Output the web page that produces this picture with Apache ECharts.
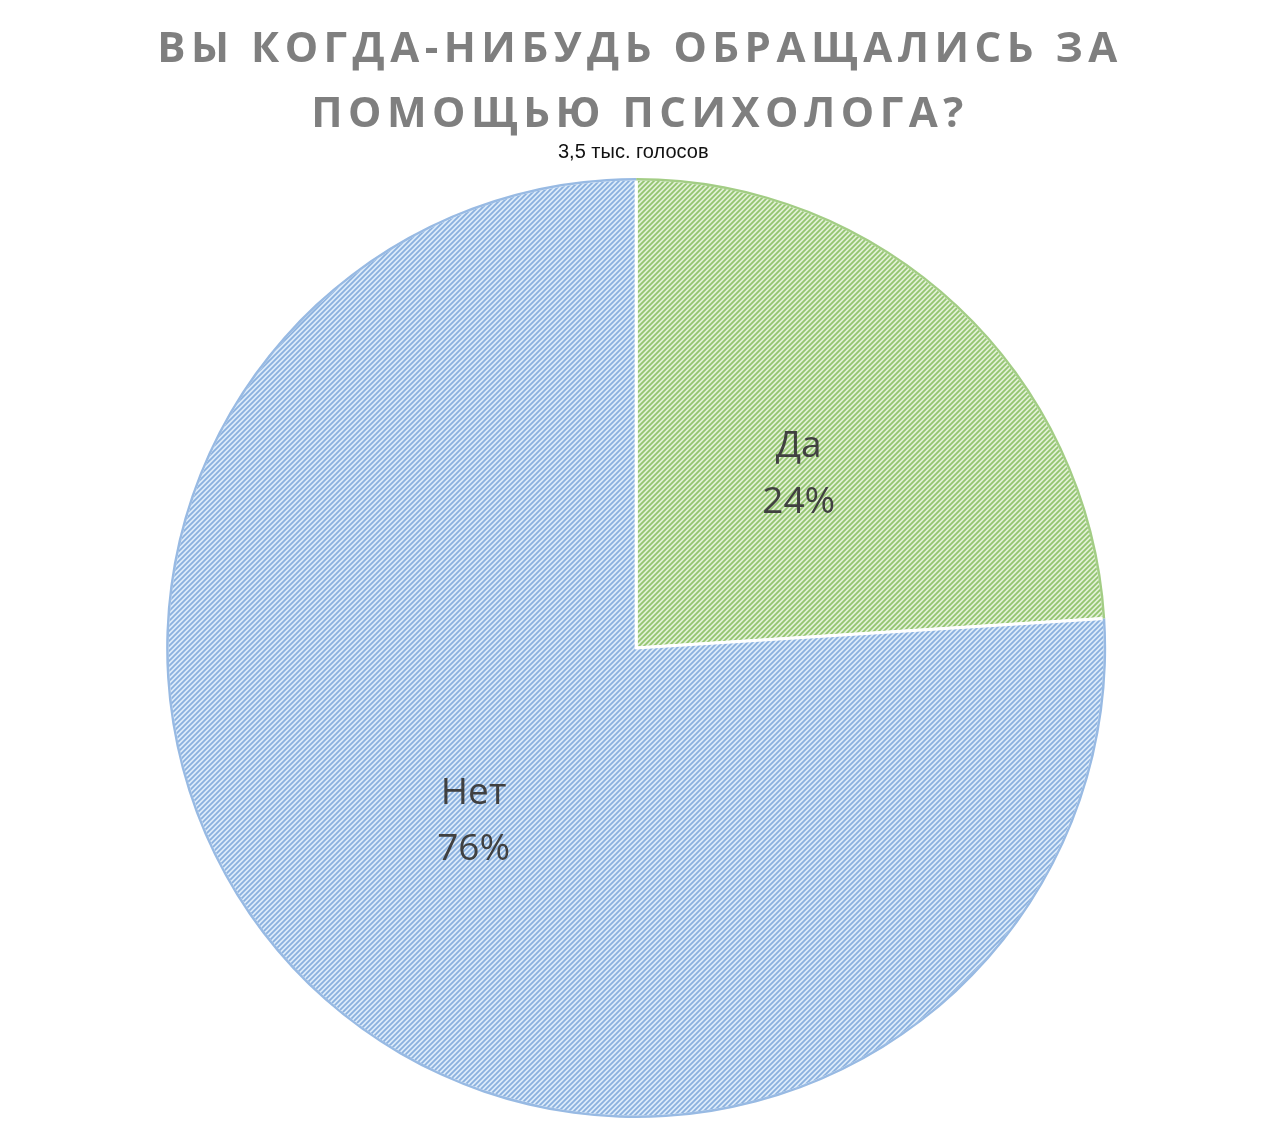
<!DOCTYPE html>
<html><head><meta charset="utf-8">
<script src="https://cdn.jsdelivr.net/npm/echarts@6/dist/echarts.min.js"></script>
<style>html,body{margin:0;padding:0;background:#fff}#c{width:1280px;height:1146px}</style>
</head><body><div id="c"></div>
<script>
const titleLines = ['ВЫ КОГДА-НИБУДЬ ОБРАЩАЛИСЬ ЗА', 'ПОМОЩЬЮ ПСИХОЛОГА?'];
const subtitle = '3,5 тыс. голосов';
const categories = ['Да', 'Нет'];
const values = [24, 76];

// wide letter spacing for the title text only (bold 42px)
(function () {
  const proto = CanvasRenderingContext2D.prototype;
  const orig = proto.fillText;
  proto.fillText = function (t, x, y, w) {
    if ('letterSpacing' in this) {
      this.letterSpacing = (/bold/.test(this.font) && /42px/.test(this.font)) ? '5.5px' : '0px';
    }
    return w === undefined ? orig.call(this, t, x, y) : orig.call(this, t, x, y, w);
  };
})();

function hatch(bg, fg) {
  const s = 5;
  const c = document.createElement('canvas');
  c.width = s; c.height = s;
  const g = c.getContext('2d');
  g.fillStyle = bg; g.fillRect(0, 0, s, s);
  g.strokeStyle = fg; g.lineWidth = 1.8;
  g.beginPath();
  g.moveTo(-1, s + 1); g.lineTo(s + 1, -1);
  g.moveTo(-1, 1); g.lineTo(1, -1);
  g.moveTo(s - 1, s + 1); g.lineTo(s + 1, s - 1);
  g.stroke();
  return c;
}
const fills = [
  {image: hatch('#e2f1d6', '#93c470'), repeat: 'repeat'},
  {image: hatch('#dcebfa', '#8ab0de'), repeat: 'repeat'}
];
const edges = ['#a3cd85', '#98bae3'];

const chart = echarts.init(document.getElementById('c'), null, {renderer: 'canvas'});
const center = ['49.7%', 648];
const R = 469;
chart.setOption({
  animation: false,
  title: [{
    text: titleLines.join('\n'),
    left: 'center', top: 13,
    textStyle: {fontFamily: 'Open Sans', fontWeight: 'bold', fontSize: 42, color: '#7f7f7f', lineHeight: 65}
  }, {
    text: subtitle,
    left: 553, top: 137,
    textStyle: {fontFamily: 'Liberation Sans', fontWeight: 'normal', fontSize: 20, color: '#111'}
  }],
  series: [{
    type: 'pie', center: center, radius: [0, R],
    startAngle: 90, clockwise: true,
    itemStyle: {borderColor: '#fff', borderWidth: 3},
    label: {
      show: true, position: 'inside',
      formatter: p => p.name + '\n' + Math.round(p.percent) + '%',
      fontFamily: 'Open Sans', fontSize: 37, color: '#404040', lineHeight: 56
    },
    labelLine: {show: false},
    data: categories.map((n, i) => ({name: n, value: values[i], itemStyle: {color: fills[i]}}))
  }, {
    type: 'pie', center: center, radius: [R - 1.5, R + 1], z: 3,
    startAngle: 90, clockwise: true, silent: true,
    label: {show: false}, labelLine: {show: false},
    itemStyle: {borderWidth: 0},
    data: categories.map((n, i) => ({name: n, value: values[i], itemStyle: {color: edges[i]}}))
  }]
});
</script></body></html>
